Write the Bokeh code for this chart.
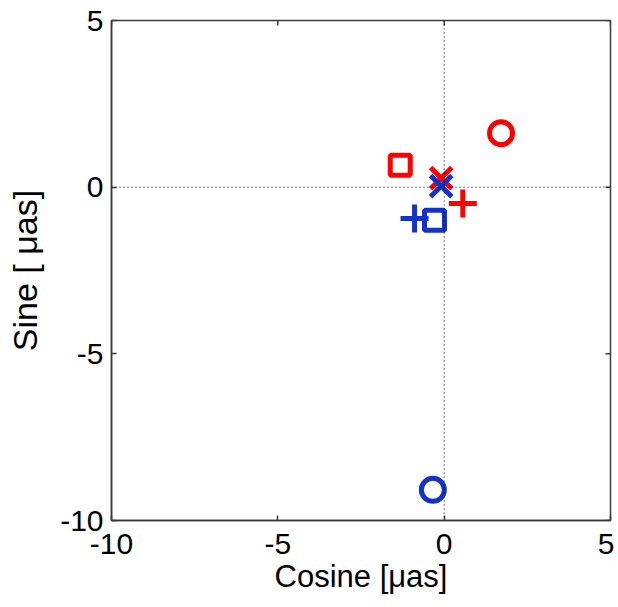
import math
from bokeh.plotting import figure
from bokeh.models import Span, FixedTicker, Range1d, ColumnDataSource, CustomJSTickFormatter
from bokeh.embed import file_html
from bokeh.resources import INLINE

# ---- data ----
tick_values = [-10, -5, 0, 5]
axis_limits = [-10, 5]
marker_kinds = ["circle", "square", "x", "cross"]
red_cosine = [1.71, -1.32, -0.09, 0.56]
red_sine = [1.62, 0.66, 0.27, -0.49]
blue_cosine = [-0.34, -0.29, -0.09, -0.89]
blue_sine = [-9.08, -0.99, 0.03, -0.94]
marker_sizes = [23, 20, 30, 28]
zero_level = 0

FONT = "Liberation Sans"
RED = "#ff0000"
BLUE = "#1432c8"
BOX = "#3a3a3a"

p = figure(frame_width=499, frame_height=500,
           x_range=Range1d(*axis_limits), y_range=Range1d(*axis_limits),
           output_backend="svg", toolbar_location=None,
           min_border_left=111, min_border_right=4,
           min_border_top=20, min_border_bottom=84,
           background_fill_color="white", border_fill_color="white")
p.grid.visible = False
p.outline_line_color = BOX
p.outline_line_width = 1.5

for ax in (p.xaxis[0], p.yaxis[0]):
    ax.ticker = FixedTicker(ticks=tick_values)
    ax.formatter = CustomJSTickFormatter(code="return tick.toString();")
    ax.minor_tick_line_color = None
    ax.major_tick_in = 5
    ax.major_tick_out = 0
    ax.major_tick_line_color = BOX
    ax.major_tick_line_width = 1.5
    ax.axis_line_color = BOX
    ax.axis_line_width = 1.5
    ax.major_label_text_font = FONT
    ax.major_label_text_font_size = "30px"
    ax.major_label_text_color = "black"
    ax.axis_label_text_font = FONT
    ax.axis_label_text_font_style = "normal"
    ax.axis_label_text_color = "black"

xa = p.xaxis[0]
ya = p.yaxis[0]
xa.axis_label = "Cosine [\u03bcas]"
ya.axis_label = "Sine [ \u03bcas]"
xa.axis_label_text_font_size = "31px"
ya.axis_label_text_font_size = "34px"
xa.major_label_standoff = 13
ya.major_label_standoff = 8
xa.axis_label_standoff = 2
ya.axis_label_standoff = 13

# inward ticks on the top and right edges of the box (clipped to the frame)
top_src = ColumnDataSource(dict(x=tick_values, y=[axis_limits[1]] * len(tick_values)))
right_src = ColumnDataSource(dict(x=[axis_limits[1]] * len(tick_values), y=tick_values))
p.scatter("x", "y", source=top_src, marker="dash", size=10, angle=math.pi / 2,
          line_color=BOX, line_width=1.5)
p.scatter("x", "y", source=right_src, marker="dash", size=10, angle=0,
          line_color=BOX, line_width=1.5)

p.add_layout(Span(location=zero_level, dimension="width", line_color="black",
                  line_width=1, line_dash="1 3"))
p.add_layout(Span(location=zero_level, dimension="height", line_color="black",
                  line_width=1, line_dash="1 3"))

for xs, ys, col in [(red_cosine, red_sine, RED), (blue_cosine, blue_sine, BLUE)]:
    src = ColumnDataSource(dict(x=xs, y=ys, m=marker_kinds, s=marker_sizes))
    p.scatter("x", "y", source=src, marker="m", size="s",
              fill_color=None, line_color=col, line_width=5)

open("out.html", "w").write(file_html(p, INLINE))
